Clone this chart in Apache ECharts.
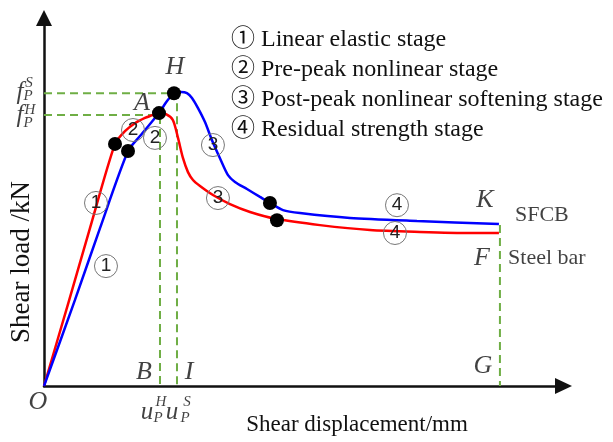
<!DOCTYPE html>
<html>
<head>
<meta charset="utf-8">
<script src="https://cdn.jsdelivr.net/npm/echarts@6/dist/echarts.min.js"></script>
<style>
  html, body { margin: 0; padding: 0; background: #fff; }
  #chart { width: 613px; height: 442px; }
</style>
</head>
<body>
<div id="chart"></div>
<script>
// Load–displacement curves (normalised units)
const steelBarDisp = [0, 4.55, 8.71, 13.45, 15.34, 17.23, 19.13, 20.08, 21.78, 23.11, 24.43, 25.38, 26.33, 27.27, 28.22, 29.55, 32.0, 35.23, 39.02, 44.13, 52.27, 61.74, 71.21, 80.68, 86.17];
const steelBarLoad = [0, 21.8, 42.0, 64.4, 67.8, 69.9, 71.3, 71.8, 72.6, 72.3, 70.7, 66.0, 60.6, 56.9, 54.8, 53.2, 50.8, 48.4, 46.3, 44.4, 42.8, 41.5, 41.0, 40.7, 40.7];
const sfcbDisp = [0, 5.87, 10.61, 15.91, 18.18, 20.08, 21.78, 23.30, 24.62, 25.95, 27.08, 28.03, 29.17, 30.49, 31.82, 33.33, 34.85, 36.17, 38.45, 40.91, 42.80, 45.27, 48.48, 57.95, 70.64, 86.17];
const sfcbLoad = [0, 22.9, 42.0, 62.5, 66.5, 69.7, 72.6, 75.8, 77.9, 78.2, 77.9, 76.6, 73.9, 70.2, 65.4, 60.6, 56.1, 54.3, 52.4, 50.3, 48.7, 46.8, 46.0, 44.7, 43.9, 43.1];

// Stage transition points
const steelBarKeyPoints = [[13.45, 64.4], [21.78, 72.6], [44.13, 44.1]];
const sfcbKeyPoints = [[15.91, 62.5], [24.62, 77.9], [42.80, 48.7]];

// Peak / residual guide lines
const peakSfcbGuide = [[0, 77.9], [25.19, 77.9], [25.19, 0]];
const peakSteelGuide = [[0, 72.1], [21.97, 72.1], [21.97, 0]];
const residualGuide = [[86.36, 42.8], [86.36, 0]];

// Stage markers: [disp, load, stage]
const stageMarkers = [
  [9.85, 48.7, '1'], [11.74, 31.9, '1'],
  [16.86, 68.1, '2'], [21.02, 66.0, '2'],
  [32.0, 64.1, '3'], [32.95, 50.0, '3'],
  [66.86, 48.1, '4'], [66.48, 40.7, '4']
];

// Point letters: [disp, load, letter]
const pointLetters = [
  [24.81, 84.8, 'H'], [18.56, 75.3, 'A'], [18.94, 3.7, 'B'], [27.46, 3.7, 'I'],
  [83.14, 5.3, 'G'], [83.52, 49.5, 'K'], [82.95, 34.0, 'F'], [-1.14, -4.3, 'O']
];

// Peak symbols: [disp, load, text, kind]  kind: b = base, p = superscript/subscript
const peakSymbols = [
  [-4.55, 78.2, 'f', 'b'], [-2.84, 80.6, 'S', 'p'], [-3.03, 77.1, 'P', 'p'],
  [-4.55, 72.1, 'f', 'b'], [-2.65, 73.4, 'H', 'p'], [-3.03, 69.9, 'P', 'p'],
  [19.51, -6.9, 'u', 'b'], [22.16, -4.3, 'H', 'p'], [21.59, -8.5, 'P', 'p'],
  [24.24, -6.9, 'u', 'b'], [27.08, -4.3, 'S', 'p'], [26.70, -8.5, 'P', 'p']
];

// Curve names placed at the curve ends
const curveNames = [[89.2, 45.5, 'SFCB'], [87.9, 34.0, 'Steel bar']];

const stageLegend = [
  '\u2460 Linear elastic stage',
  '\u2461 Pre-peak nonlinear stage',
  '\u2462 Post-peak nonlinear softening stage',
  '\u2463 Residual strength stage'
];

const xTitle = 'Shear displacement/mm';
const yTitle = 'Shear load /kN';

const SERIF = '"Liberation Serif", "Times New Roman", "Noto Sans CJK SC", serif';

const zip = (xs, ys) => xs.map((x, i) => [x, ys[i]]);

const chart = echarts.init(document.getElementById('chart'), null, { renderer: 'canvas' });

const guideStyle = { color: '#6fae45', width: 2, type: [8, 5] };

const option = {
  animation: false,
  backgroundColor: '#fff',
  grid: { left: 44, right: 49.5, top: 18, bottom: 56 },
  xAxis: {
    type: 'value', min: 0, max: 98.4,
    axisLine: { show: true, symbol: ['none', 'triangle'], symbolSize: [16, 17], lineStyle: { color: '#111', width: 2.5 } },
    axisTick: { show: false }, axisLabel: { show: false }, splitLine: { show: false }
  },
  yAxis: {
    type: 'value', min: 0, max: 97.9,
    axisLine: { show: true, symbol: ['none', 'triangle'], symbolSize: [16, 16], lineStyle: { color: '#111', width: 2.5 } },
    axisTick: { show: false }, axisLabel: { show: false }, splitLine: { show: false }
  },
  series: [
    { type: 'line', data: peakSfcbGuide, symbol: 'none', lineStyle: guideStyle, z: 1 },
    { type: 'line', data: peakSteelGuide, symbol: 'none', lineStyle: guideStyle, z: 1 },
    { type: 'line', data: residualGuide, symbol: 'none', lineStyle: guideStyle, z: 1 },
    { name: 'Steel bar', type: 'line', data: zip(steelBarDisp, steelBarLoad), symbol: 'none', smooth: 0.25,
      lineStyle: { color: '#ff0000', width: 2.5 }, z: 3 },
    { name: 'SFCB', type: 'line', data: zip(sfcbDisp, sfcbLoad), symbol: 'none', smooth: 0.25,
      lineStyle: { color: '#0000ff', width: 2.5 }, z: 3 },
    { type: 'scatter', data: steelBarKeyPoints.concat(sfcbKeyPoints), symbolSize: 14,
      itemStyle: { color: '#000', opacity: 1 }, z: 5 },
    { type: 'scatter', data: stageMarkers, symbol: 'circle', symbolSize: 23, clip: false,
      itemStyle: { color: 'rgba(0,0,0,0)', borderColor: '#777', borderWidth: 1, opacity: 1 },
      label: { show: true, position: 'inside', formatter: p => p.data[2],
        fontFamily: '"Liberation Sans", Arial, sans-serif', fontSize: 19, color: '#222' }, z: 6 },
    { type: 'scatter', data: pointLetters, symbolSize: 0, clip: false,
      label: { show: true, position: 'inside', formatter: p => p.data[2],
        fontFamily: SERIF, fontStyle: 'italic', fontSize: 26, color: '#111' }, z: 6 },
    { type: 'scatter', data: peakSymbols, symbolSize: 0, clip: false,
      label: { show: true, position: 'inside', formatter: p => (p.data[3] === 'b' ? '{b|' : '{p|') + p.data[2] + '}',
        rich: {
          b: { fontFamily: SERIF, fontStyle: 'italic', fontSize: 25, color: '#111' },
          p: { fontFamily: SERIF, fontStyle: 'italic', fontSize: 15, color: '#111' }
        } }, z: 6 },
    { type: 'scatter', data: curveNames, symbolSize: 0, clip: false,
      label: { show: true, position: 'right', distance: 0, formatter: p => p.data[2],
        fontFamily: SERIF, fontSize: 22, color: '#111' }, z: 6 }
  ],
  graphic: [
    ...stageLegend.map((t, i) => ({
      type: 'text', left: 231, top: 41 + i * 30 - 13,
      style: { text: t, font: '24px ' + SERIF, fill: '#111' }
    })),
    { type: 'text', x: 357, y: 425, style: { text: xTitle, font: '23px ' + SERIF, fill: '#111', align: 'center', verticalAlign: 'middle' } },
    { type: 'text', x: 22, y: 262, rotation: Math.PI / 2, style: { text: yTitle, font: '27px ' + SERIF, fill: '#111', align: 'center', verticalAlign: 'middle' } }
  ]
};

chart.setOption(option);
</script>
</body>
</html>
